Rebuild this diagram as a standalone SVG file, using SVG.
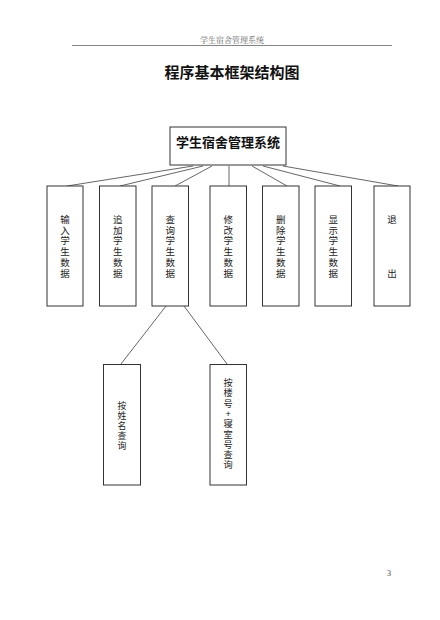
<svg xmlns="http://www.w3.org/2000/svg" width="440" height="620" viewBox="0 0 440 620">
<style>
.box{fill:#fff;stroke:#333;stroke-width:1}
.ln{stroke:#555;stroke-width:0.9;fill:none}
.t{font-family:"Liberation Sans","Noto Sans CJK SC",sans-serif;font-size:9.5px;fill:#222;text-anchor:middle}
.s{font-size:8.9px}
.s2{font-size:9.2px}
</style>
<rect width="440" height="620" fill="#fff"/>
<text x="232" y="43" font-family="Noto Serif CJK SC,Noto Sans CJK SC,serif" font-size="8" fill="#666" text-anchor="middle">学生宿舍管理系统</text>
<line x1="72" y1="45.5" x2="392" y2="45.5" stroke="#666" stroke-width="0.8"/>
<text x="232" y="78" font-family="Noto Sans CJK SC,sans-serif" font-size="15" font-weight="bold" fill="#111" text-anchor="middle">程序基本框架结构图</text>
<g id="connectors">
<line class="ln" x1="193" y1="166" x2="67" y2="186"/>
<line class="ln" x1="203" y1="166" x2="120" y2="186"/>
<line class="ln" x1="212" y1="166" x2="175" y2="186"/>
<line class="ln" x1="229" y1="166" x2="229" y2="186"/>
<line class="ln" x1="252" y1="166" x2="287" y2="186"/>
<line class="ln" x1="263" y1="166" x2="340" y2="186"/>
<line class="ln" x1="283" y1="166" x2="398" y2="186"/>
<line class="ln" x1="166" y1="306" x2="121" y2="364"/>
<line class="ln" x1="184" y1="306" x2="227" y2="364"/>
</g>
<g id="root">
<rect class="box" x="170" y="127" width="116" height="38"/>
<text x="228" y="147" font-family="Noto Sans CJK SC,sans-serif" font-size="13" font-weight="bold" fill="#111" text-anchor="middle">学生宿舍管理系统</text>
</g>
<g id="n1">
<rect class="box" x="47" y="186" width="36" height="120"/>
<text class="t"><tspan x="65" y="223">输</tspan><tspan x="65" dy="10.7">入</tspan><tspan x="65" dy="10.7">学</tspan><tspan x="65" dy="10.7">生</tspan><tspan x="65" dy="10.7">数</tspan><tspan x="65" dy="10.7">据</tspan></text>
</g>
<g id="n2">
<rect class="box" x="99.5" y="186" width="36.5" height="120"/>
<text class="t"><tspan x="117.7" y="223">追</tspan><tspan x="117.7" dy="10.7">加</tspan><tspan x="117.7" dy="10.7">学</tspan><tspan x="117.7" dy="10.7">生</tspan><tspan x="117.7" dy="10.7">数</tspan><tspan x="117.7" dy="10.7">据</tspan></text>
</g>
<g id="n3">
<rect class="box" x="152" y="186" width="36.5" height="120"/>
<text class="t"><tspan x="170.2" y="223">查</tspan><tspan x="170.2" dy="10.7">询</tspan><tspan x="170.2" dy="10.7">学</tspan><tspan x="170.2" dy="10.7">生</tspan><tspan x="170.2" dy="10.7">数</tspan><tspan x="170.2" dy="10.7">据</tspan></text>
</g>
<g id="n4">
<rect class="box" x="210" y="186" width="36.5" height="120"/>
<text class="t"><tspan x="228.2" y="223">修</tspan><tspan x="228.2" dy="10.7">改</tspan><tspan x="228.2" dy="10.7">学</tspan><tspan x="228.2" dy="10.7">生</tspan><tspan x="228.2" dy="10.7">数</tspan><tspan x="228.2" dy="10.7">据</tspan></text>
</g>
<g id="n5">
<rect class="box" x="262.5" y="186" width="36.5" height="120"/>
<text class="t"><tspan x="280.7" y="223">删</tspan><tspan x="280.7" dy="10.7">除</tspan><tspan x="280.7" dy="10.7">学</tspan><tspan x="280.7" dy="10.7">生</tspan><tspan x="280.7" dy="10.7">数</tspan><tspan x="280.7" dy="10.7">据</tspan></text>
</g>
<g id="n6">
<rect class="box" x="315" y="186" width="36.5" height="120"/>
<text class="t"><tspan x="333.2" y="223">显</tspan><tspan x="333.2" dy="10.7">示</tspan><tspan x="333.2" dy="10.7">学</tspan><tspan x="333.2" dy="10.7">生</tspan><tspan x="333.2" dy="10.7">数</tspan><tspan x="333.2" dy="10.7">据</tspan></text>
</g>
<g id="n7">
<rect class="box" x="374" y="186" width="36" height="120"/>
<text class="t"><tspan x="392" y="223">退</tspan><tspan x="392" y="276.5">出</tspan></text>
</g>
<g id="s1">
<rect class="box" x="103.5" y="364.5" width="37" height="120.5"/>
<text class="t s"><tspan x="122" y="409.2">按</tspan><tspan x="122" dy="10">姓</tspan><tspan x="122" dy="10">名</tspan><tspan x="122" dy="10">查</tspan><tspan x="122" dy="10">询</tspan></text>
</g>
<g id="s2">
<rect class="box" x="210" y="364.5" width="36.5" height="120.5"/>
<text class="t s2"><tspan x="228.2" y="386">按</tspan><tspan x="228.2" dy="10.3">楼</tspan><tspan x="228.2" dy="10.3">号</tspan><tspan x="228.2" dy="10.3">+</tspan><tspan x="228.2" dy="10.3">寝</tspan><tspan x="228.2" dy="10.3">室</tspan><tspan x="228.2" dy="10.3">号</tspan><tspan x="228.2" dy="10.3">查</tspan><tspan x="228.2" dy="10.3">询</tspan></text>
</g>
<text x="389" y="576" font-family="Liberation Serif,serif" font-size="8" fill="#444" text-anchor="middle">3</text>
</svg>
